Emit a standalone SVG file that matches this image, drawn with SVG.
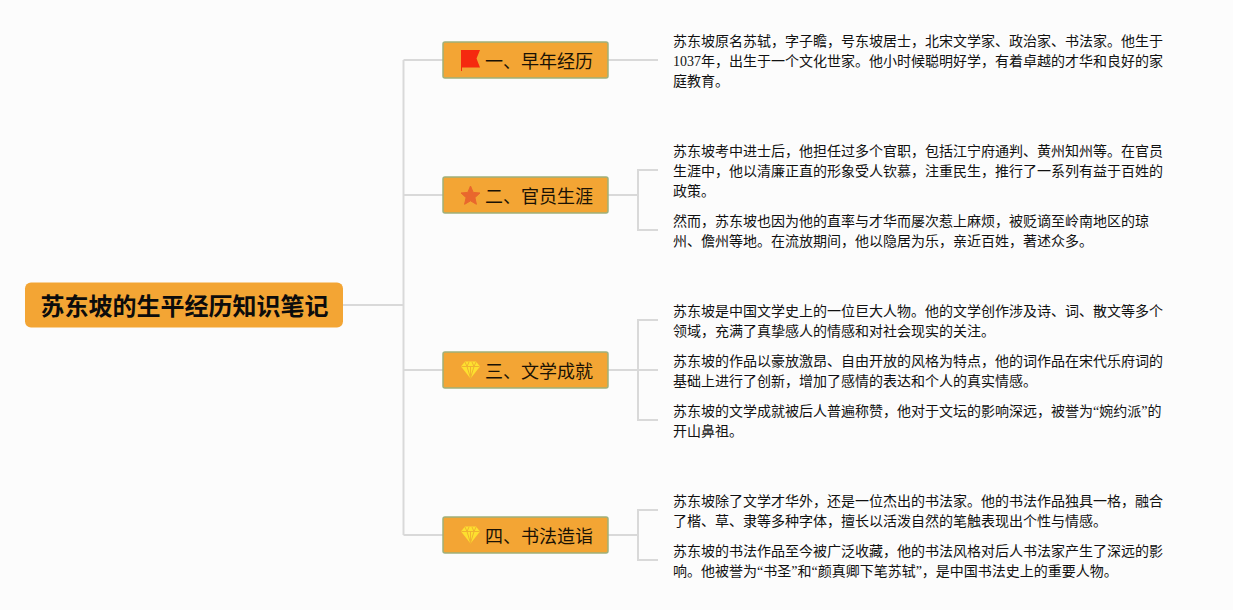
<svg xmlns="http://www.w3.org/2000/svg" width="1233" height="610" viewBox="0 0 1233 610">
<style>
text{font-family:"Liberation Serif","Noto Sans CJK SC",sans-serif;fill:#111}
.b{font-size:14px}
.n{font-size:18px;font-family:"Noto Sans CJK SC","Noto Sans",sans-serif;fill:#1a1205}
.r{font-size:24px;font-weight:700;font-family:"Noto Sans CJK SC","Noto Sans",sans-serif;fill:#0c0c0c}
.box{fill:#f3a534;stroke:#9fb07a;stroke-width:1.5}
.c{fill:none;stroke:#d9d9d9;stroke-width:2}
</style>
<defs>
<g id="gem"><path d="M-5.500-8.500H5.500L9.500-3.500 0 8.500-9.500-3.500Z" fill="#fde02f"/><path d="M-9-3.500H9M-5.500-8-3.500-3.500 0 8 3.500-3.500 5.500-8M-1.500-8-3.500-3.500M1.500-8 3.500-3.500M0-3.500V8" fill="none" stroke="#f0b22f" stroke-width="1"/></g>
</defs>
<rect width="1233" height="610" fill="#fcfcfc"/>
<g id="connectors" class="c">
<path d="M343 305H403.500M403.500 60V535M403.500 60H443M403.500 195H443M403.500 370H443M403.500 535H443"/>
<path d="M608 60H658"/>
<path d="M608 195H638M658 170H638V230H658"/>
<path d="M608 370H658M658 320H638V420H658"/>
<path d="M608 535H638M658 510H638V560H658"/>
</g>
<g id="root"><rect x="25" y="282.500" width="318" height="45" rx="6" fill="#f3a534"/><text class="r" x="40.500" y="315">苏东坡的生平经历知识笔记</text></g>
<g id="node1"><rect class="box" x="443" y="42" width="165" height="36" rx="2"/>
<path d="M461 50H480L476.500 58.500 480 67.500H462V71H461Z" fill="#f5290f"/>
<text class="n" x="485" y="68">一、早年经历</text></g>
<g id="node2"><rect class="box" x="443" y="177" width="165" height="36" rx="2"/>
<path d="M470.500 186 473.200 192.400 480 193 474.900 197.600 476.400 204.300 470.500 200.800 464.600 204.300 466.100 197.600 461 193 467.800 192.400Z" fill="#e9672d" stroke="#e9672d" stroke-linejoin="round"/>
<text class="n" x="485" y="203">二、官员生涯</text></g>
<g id="node3"><rect class="box" x="443" y="352" width="165" height="36" rx="2"/>
<use href="#gem" x="470.500" y="370"/>
<text class="n" x="485" y="378">三、文学成就</text></g>
<g id="node4"><rect class="box" x="443" y="517" width="165" height="36" rx="2"/>
<use href="#gem" x="470.500" y="535"/>
<text class="n" x="485" y="543">四、书法造诣</text></g>
<g id="text1"><text class="b" x="673" y="46">苏东坡原名苏轼，字子瞻，号东坡居士，北宋文学家、政治家、书法家。他生于</text><text class="b" x="673" y="66">1037年，出生于一个文化世家。他小时候聪明好学，有着卓越的才华和良好的家</text><text class="b" x="673" y="86">庭教育。</text></g>
<g id="text2a"><text class="b" x="673" y="156">苏东坡考中进士后，他担任过多个官职，包括江宁府通判、黄州知州等。在官员</text><text class="b" x="673" y="176">生涯中，他以清廉正直的形象受人钦慕，注重民生，推行了一系列有益于百姓的</text><text class="b" x="673" y="196">政策。</text></g>
<g id="text2b"><text class="b" x="673" y="226">然而，苏东坡也因为他的直率与才华而屡次惹上麻烦，被贬谪至岭南地区的琼</text><text class="b" x="673" y="246">州、儋州等地。在流放期间，他以隐居为乐，亲近百姓，著述众多。</text></g>
<g id="text3a"><text class="b" x="673" y="316">苏东坡是中国文学史上的一位巨大人物。他的文学创作涉及诗、词、散文等多个</text><text class="b" x="673" y="336">领域，充满了真挚感人的情感和对社会现实的关注。</text></g>
<g id="text3b"><text class="b" x="673" y="366">苏东坡的作品以豪放激昂、自由开放的风格为特点，他的词作品在宋代乐府词的</text><text class="b" x="673" y="386">基础上进行了创新，增加了感情的表达和个人的真实情感。</text></g>
<g id="text3c"><text class="b" x="673" y="416">苏东坡的文学成就被后人普遍称赞，他对于文坛的影响深远，被誉为“婉约派”的</text><text class="b" x="673" y="436">开山鼻祖。</text></g>
<g id="text4a"><text class="b" x="673" y="506">苏东坡除了文学才华外，还是一位杰出的书法家。他的书法作品独具一格，融合</text><text class="b" x="673" y="526">了楷、草、隶等多种字体，擅长以活泼自然的笔触表现出个性与情感。</text></g>
<g id="text4b"><text class="b" x="673" y="556">苏东坡的书法作品至今被广泛收藏，他的书法风格对后人书法家产生了深远的影</text><text class="b" x="673" y="576">响。他被誉为“书圣”和“颜真卿下笔苏轼”，是中国书法史上的重要人物。</text></g>
</svg>
